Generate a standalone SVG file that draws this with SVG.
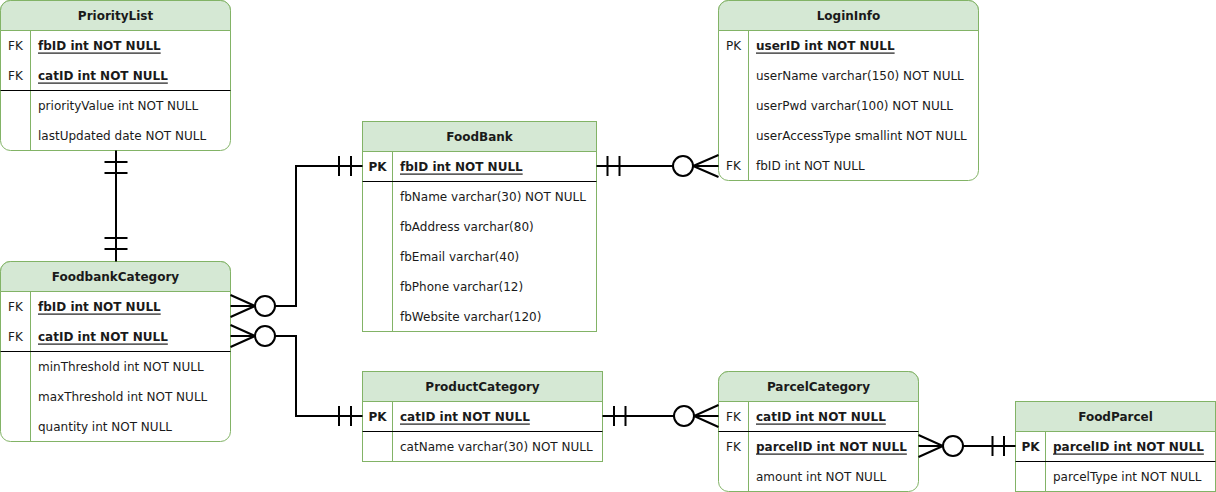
<svg xmlns="http://www.w3.org/2000/svg" width="1216" height="492" viewBox="0 0 1216 492">
<style>
.box{fill:#ffffff;stroke:#82b366;stroke-width:1}
.hdr{fill:#d5e8d4;stroke:#82b366;stroke-width:1}
.gl{stroke:#82b366;stroke-width:1;fill:none}
.kl{stroke:#000000;stroke-width:1;fill:none}
text{font-family:"DejaVu Sans","Liberation Sans",sans-serif;font-size:12px;fill:#1a1a1a;dominant-baseline:central}
.t{font-weight:bold;text-anchor:middle}
.k{text-anchor:middle}
.kb{text-anchor:middle;font-weight:bold}
.u{font-weight:bold;text-decoration:underline}
.c{stroke:#000;stroke-width:2;fill:none}
.o{stroke:#000;stroke-width:2;fill:#fff}
</style>
<rect width="1216" height="492" fill="#ffffff"/>

<g id="PriorityList">
<rect class="box" x="0.5" y="0.5" width="230" height="150" rx="10"/>
<path class="hdr" d="M0.5,30.5 V10.5 A10,10 0 0 1 10.5,0.5 H220.5 A10,10 0 0 1 230.5,10.5 V30.5 Z"/>
<line class="gl" x1="30.5" y1="30.5" x2="30.5" y2="150.5"/>
<line class="kl" x1="0.5" y1="90.5" x2="230.5" y2="90.5"/>
<text class="t" x="115.5" y="15.5">PriorityList</text>
<text class="k" x="15.5" y="45.5">FK</text><text class="u" x="38" y="45.5">fbID int NOT NULL</text>
<text class="k" x="15.5" y="75.5">FK</text><text class="u" x="38" y="75.5">catID int NOT NULL</text>
<text x="38" y="105.5">priorityValue int NOT NULL</text>
<text x="38" y="135.5">lastUpdated date NOT NULL</text>
</g>

<g id="FoodBank">
<rect class="box" x="362.5" y="121.5" width="234" height="210"/>
<rect class="hdr" x="362.5" y="121.5" width="234" height="30"/>
<line class="gl" x1="392.5" y1="151.5" x2="392.5" y2="331.5"/>
<line class="kl" x1="362.5" y1="181.5" x2="596.5" y2="181.5"/>
<text class="t" x="479.5" y="136.5">FoodBank</text>
<text class="kb" x="377.5" y="166.5">PK</text><text class="u" x="400" y="166.5">fbID int NOT NULL</text>
<text x="400" y="196.5">fbName varchar(30) NOT NULL</text>
<text x="400" y="226.5">fbAddress varchar(80)</text>
<text x="400" y="256.5">fbEmail varchar(40)</text>
<text x="400" y="286.5">fbPhone varchar(12)</text>
<text x="400" y="316.5">fbWebsite varchar(120)</text>
</g>

<g id="LoginInfo">
<rect class="box" x="718.5" y="0.5" width="260" height="180" rx="10"/>
<path class="hdr" d="M718.5,30.5 V10.5 A10,10 0 0 1 728.5,0.5 H968.5 A10,10 0 0 1 978.5,10.5 V30.5 Z"/>
<line class="gl" x1="748.5" y1="30.5" x2="748.5" y2="180.5"/>
<text class="t" x="848.5" y="15.5">LoginInfo</text>
<text class="k" x="733.5" y="45.5">PK</text><text class="u" x="756" y="45.5">userID int NOT NULL</text>
<text x="756" y="75.5">userName varchar(150) NOT NULL</text>
<text x="756" y="105.5">userPwd varchar(100) NOT NULL</text>
<text x="756" y="135.5">userAccessType smallint NOT NULL</text>
<text class="k" x="733.5" y="165.5">FK</text><text x="756" y="165.5">fbID int NOT NULL</text>
</g>

<g id="FoodbankCategory">
<rect class="box" x="0.5" y="261.5" width="230" height="180" rx="10"/>
<path class="hdr" d="M0.5,291.5 V271.5 A10,10 0 0 1 10.5,261.5 H220.5 A10,10 0 0 1 230.5,271.5 V291.5 Z"/>
<line class="gl" x1="30.5" y1="291.5" x2="30.5" y2="441.5"/>
<line class="kl" x1="0.5" y1="351.5" x2="230.5" y2="351.5"/>
<text class="t" x="115.5" y="276.5">FoodbankCategory</text>
<text class="k" x="15.5" y="306.5">FK</text><text class="u" x="38" y="306.5">fbID int NOT NULL</text>
<text class="k" x="15.5" y="336.5">FK</text><text class="u" x="38" y="336.5">catID int NOT NULL</text>
<text x="38" y="366.5">minThreshold int NOT NULL</text>
<text x="38" y="396.5">maxThreshold int NOT NULL</text>
<text x="38" y="426.5">quantity int NOT NULL</text>
</g>

<g id="ProductCategory">
<rect class="box" x="362.5" y="371.5" width="240" height="90"/>
<rect class="hdr" x="362.5" y="371.5" width="240" height="30"/>
<line class="gl" x1="392.5" y1="401.5" x2="392.5" y2="461.5"/>
<line class="kl" x1="362.5" y1="431.5" x2="602.5" y2="431.5"/>
<text class="t" x="482.5" y="386.5">ProductCategory</text>
<text class="kb" x="377.5" y="416.5">PK</text><text class="u" x="400" y="416.5">catID int NOT NULL</text>
<text x="400" y="446.5">catName varchar(30) NOT NULL</text>
</g>

<g id="ParcelCategory">
<rect class="box" x="718.5" y="371.5" width="200" height="120" rx="10"/>
<path class="hdr" d="M718.5,401.5 V381.5 A10,10 0 0 1 728.5,371.5 H908.5 A10,10 0 0 1 918.5,381.5 V401.5 Z"/>
<line class="gl" x1="748.5" y1="401.5" x2="748.5" y2="491.5"/>
<line class="kl" x1="718.5" y1="431.5" x2="918.5" y2="431.5"/>
<text class="t" x="818.5" y="386.5">ParcelCategory</text>
<text class="k" x="733.5" y="416.5">FK</text><text class="u" x="756" y="416.5">catID int NOT NULL</text>
<text class="k" x="733.5" y="446.5">FK</text><text class="u" x="756" y="446.5">parcelID int NOT NULL</text>
<text x="756" y="476.5">amount int NOT NULL</text>
</g>

<g id="FoodParcel">
<rect class="box" x="1015.5" y="401.5" width="200" height="90"/>
<rect class="hdr" x="1015.5" y="401.5" width="200" height="30"/>
<line class="gl" x1="1045.5" y1="431.5" x2="1045.5" y2="491.5"/>
<line class="kl" x1="1015.5" y1="461.5" x2="1215.5" y2="461.5"/>
<text class="t" x="1115.5" y="416.5">FoodParcel</text>
<text class="kb" x="1030.5" y="446.5">PK</text><text class="u" x="1053" y="446.5">parcelID int NOT NULL</text>
<text x="1053" y="476.5">parcelType int NOT NULL</text>
</g>

<g id="connectors">
<!-- PriorityList - FoodbankCategory -->
<path class="c" d="M116,150.5 V261.5 M104.5,162 H127.5 M104.5,173 H127.5 M104.5,238 H127.5 M104.5,249 H127.5"/>
<!-- FoodbankCategory.fbID - FoodBank.fbID -->
<path class="c" d="M230.5,306 H296 V166 H362.5 M230.5,295 L255,306 L230.5,317 M339,156 V176 M351,156 V176"/>
<circle class="o" cx="265" cy="306" r="10"/>
<!-- FoodbankCategory.catID - ProductCategory.catID -->
<path class="c" d="M230.5,336 H296 V416 H362.5 M230.5,325 L255,336 L230.5,347 M339,406 V426 M351,406 V426"/>
<circle class="o" cx="265" cy="336" r="10"/>
<!-- FoodBank.fbID - LoginInfo.fbID -->
<path class="c" d="M596.5,166 H718.5 M718.5,155 L693,166 L718.5,177 M607.5,156 V176 M619.5,156 V176"/>
<circle class="o" cx="683" cy="166" r="10"/>
<!-- ProductCategory.catID - ParcelCategory.catID -->
<path class="c" d="M602.5,416 H718.5 M718.5,405 L694,416 L718.5,427 M614,406 V426 M625.5,406 V426"/>
<circle class="o" cx="684" cy="416" r="10"/>
<!-- ParcelCategory.parcelID - FoodParcel.parcelID -->
<path class="c" d="M918.5,446 H1015.5 M918.5,435 L943,446 L918.5,457 M992.5,436 V456 M1004,436 V456"/>
<circle class="o" cx="953" cy="446" r="10"/>
</g>
</svg>
